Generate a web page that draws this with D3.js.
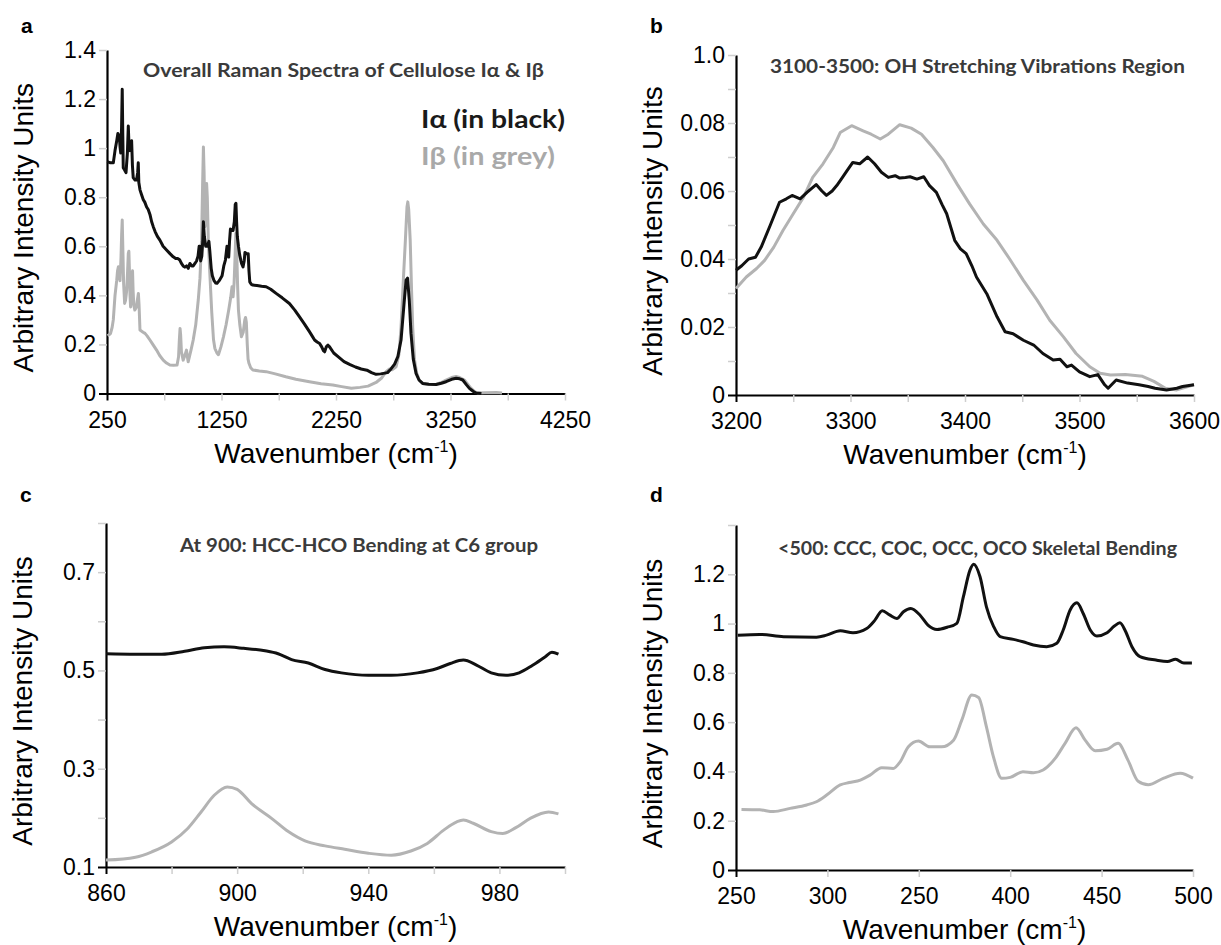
<!DOCTYPE html>
<meta charset="utf-8">
<script src="https://d3js.org/d3.v7.min.js"></script>
<style>
  body { margin: 0; background: #fff; }
  text { font-family: "Liberation Sans", Arial, sans-serif; }
  .note { font-family: Lato, "Open Sans", sans-serif; font-weight: bold; }
</style>
<div id="chart"></div>
<script>

// ---- panel a : overall spectra (wavenumber, intensity) ----
const aAlpha = [[252,0.945],[280,0.94],[305,0.94],[320,0.99],[335,1.03],[345,1.06],[357,1.05],[365,1.0],[370,0.98],[377,1.08],[383,1.24],[388,1.05],[392,0.92],[405,0.91],[416,0.90],[428,0.98],[436,1.09],[443,1.0],[450,0.99],[458,1.02],[465,1.03],[472,0.93],[479,0.88],[495,0.87],[508,0.87],[518,0.90],[523,0.94],[528,0.86],[538,0.83],[552,0.81],[567,0.79],[580,0.78],[596,0.76],[610,0.75],[625,0.73],[640,0.70],[654,0.68],[670,0.66],[690,0.64],[712,0.625],[740,0.60],[770,0.585],[800,0.57],[828,0.557],[850,0.55],[870,0.55],[886,0.544],[900,0.53],[915,0.52],[930,0.515],[945,0.52],[960,0.51],[974,0.53],[990,0.52],[1003,0.52],[1018,0.53],[1032,0.54],[1045,0.56],[1055,0.6],[1061,0.6],[1068,0.54],[1078,0.56],[1086,0.62],[1092,0.70],[1100,0.64],[1112,0.6],[1125,0.6],[1140,0.62],[1148,0.58],[1160,0.51],[1170,0.48],[1185,0.46],[1200,0.45],[1211,0.449],[1230,0.46],[1255,0.48],[1270,0.52],[1284,0.544],[1298,0.6],[1306,0.57],[1313,0.556],[1320,0.62],[1328,0.67],[1340,0.665],[1351,0.664],[1362,0.7],[1370,0.77],[1376,0.775],[1382,0.7],[1388,0.64],[1398,0.6],[1409,0.564],[1425,0.53],[1438,0.516],[1448,0.54],[1455,0.575],[1468,0.57],[1483,0.57],[1490,0.5],[1497,0.455],[1510,0.445],[1524,0.442],[1560,0.44],[1600,0.437],[1640,0.435],[1680,0.425],[1727,0.408],[1780,0.39],[1843,0.367],[1890,0.34],[1930,0.313],[1975,0.283],[2018,0.252],[2045,0.232],[2063,0.218],[2085,0.21],[2107,0.204],[2125,0.19],[2140,0.175],[2151,0.17],[2165,0.19],[2180,0.197],[2194,0.19],[2230,0.165],[2268,0.15],[2320,0.13],[2373,0.118],[2420,0.108],[2470,0.1],[2520,0.095],[2560,0.085],[2600,0.078],[2640,0.08],[2665,0.082],[2700,0.085],[2730,0.1],[2762,0.12],[2790,0.15],[2818,0.218],[2845,0.37],[2862,0.462],[2875,0.47],[2890,0.38],[2905,0.245],[2925,0.14],[2949,0.082],[2975,0.055],[3007,0.041],[3060,0.038],[3124,0.037],[3170,0.042],[3211,0.048],[3260,0.058],[3299,0.062],[3330,0.06],[3357,0.055],[3390,0.035],[3415,0.021],[3450,0.008],[3473,0.002],[3520,0.0]];
const aBeta = [[255,0.235],[270,0.24],[281,0.245],[295,0.27],[305,0.30],[320,0.40],[335,0.462],[342,0.50],[350,0.517],[357,0.48],[364,0.46],[372,0.55],[378,0.65],[383,0.707],[388,0.6],[395,0.45],[404,0.367],[412,0.38],[422,0.42],[430,0.5],[436,0.571],[441,0.58],[446,0.5],[451,0.40],[456,0.353],[463,0.4],[468,0.48],[473,0.5],[478,0.42],[484,0.36],[493,0.34],[505,0.35],[515,0.38],[524,0.408],[530,0.36],[538,0.259],[550,0.255],[565,0.25],[582,0.245],[600,0.235],[625,0.218],[650,0.2],[683,0.177],[710,0.155],[741,0.136],[770,0.124],[799,0.116],[830,0.115],[862,0.116],[875,0.15],[882,0.22],[888,0.265],[893,0.24],[900,0.17],[915,0.136],[930,0.155],[944,0.177],[952,0.15],[959,0.129],[970,0.15],[985,0.18],[1003,0.218],[1025,0.28],[1047,0.381],[1062,0.47],[1076,0.625],[1085,0.85],[1092,1.005],[1098,0.9],[1105,0.68],[1113,0.72],[1120,0.856],[1126,0.8],[1135,0.62],[1148,0.49],[1165,0.33],[1180,0.22],[1192,0.184],[1210,0.165],[1223,0.158],[1245,0.19],[1267,0.231],[1290,0.28],[1313,0.34],[1330,0.39],[1342,0.435],[1351,0.394],[1360,0.45],[1368,0.55],[1375,0.652],[1382,0.6],[1390,0.45],[1398,0.34],[1410,0.28],[1424,0.231],[1440,0.25],[1453,0.299],[1460,0.31],[1467,0.29],[1475,0.2],[1482,0.14],[1490,0.123],[1505,0.105],[1524,0.096],[1580,0.092],[1640,0.089],[1720,0.08],[1812,0.068],[1900,0.058],[2018,0.048],[2120,0.04],[2222,0.035],[2300,0.028],[2384,0.021],[2460,0.025],[2530,0.03],[2600,0.045],[2646,0.062],[2690,0.09],[2717,0.1],[2740,0.097],[2775,0.109],[2800,0.16],[2818,0.27],[2840,0.48],[2856,0.625],[2870,0.76],[2877,0.781],[2885,0.75],[2898,0.625],[2910,0.42],[2920,0.27],[2935,0.14],[2955,0.082],[2980,0.052],[3007,0.041],[3060,0.038],[3124,0.037],[3170,0.045],[3211,0.055],[3260,0.065],[3299,0.069],[3330,0.065],[3371,0.055],[3400,0.038],[3430,0.021],[3460,0.008],[3488,0.002],[3550,0.003],[3650,0.004],[3700,0.002]];
const aXTicks = [250,750,1250,1750,2250,2750,3250,3750,4250];
const aXLabels = ["250","","1250","","2250","","3250","","4250"];
const aYTicks = [0,0.2,0.4,0.6,0.8,1,1.2,1.4];
const aYLabels = ["0","0.2","0.4","0.6","0.8","1","1.2","1.4"];

// ---- panel b : OH stretching ----
const bAlpha = [[3200,0.0367],[3205,0.038],[3211,0.040],[3217,0.0405],[3222,0.0435],[3230,0.050],[3238,0.0567],[3244,0.0577],[3249,0.0587],[3256,0.0577],[3262,0.0596],[3270,0.0619],[3275,0.0600],[3279,0.0587],[3284,0.060],[3288,0.0616],[3293,0.064],[3297,0.066],[3302,0.0684],[3308,0.068],[3315,0.070],[3321,0.068],[3327,0.0655],[3333,0.064],[3339,0.0645],[3343,0.0638],[3348,0.064],[3352,0.0642],[3358,0.0635],[3364,0.0642],[3369,0.0616],[3375,0.0596],[3380,0.056],[3384,0.0533],[3391,0.0455],[3396,0.043],[3401,0.0416],[3406,0.038],[3410,0.0347],[3419,0.0298],[3428,0.023],[3435,0.0186],[3442,0.018],[3451,0.0161],[3460,0.0147],[3468,0.0122],[3477,0.0103],[3483,0.0105],[3489,0.0083],[3493,0.0088],[3500,0.0068],[3509,0.0054],[3516,0.006],[3522,0.003],[3525,0.002],[3532,0.0044],[3542,0.0035],[3552,0.003],[3560,0.0025],[3566,0.002],[3576,0.0015],[3585,0.002],[3590,0.0025],[3600,0.003]];
const bBeta = [[3200,0.0313],[3209,0.0347],[3218,0.0372],[3225,0.0396],[3233,0.0435],[3241,0.0484],[3250,0.0533],[3259,0.0582],[3267,0.064],[3276,0.068],[3285,0.0728],[3291,0.0772],[3301,0.0792],[3311,0.0777],[3318,0.0767],[3326,0.0753],[3333,0.0767],[3343,0.0795],[3353,0.0785],[3362,0.0767],[3372,0.0728],[3381,0.0689],[3393,0.0621],[3404,0.0562],[3416,0.0503],[3428,0.0455],[3439,0.040],[3451,0.0337],[3463,0.0279],[3474,0.022],[3486,0.0171],[3497,0.0122],[3509,0.0083],[3518,0.0064],[3527,0.0059],[3540,0.006],[3555,0.0055],[3565,0.004],[3575,0.002],[3585,0.0015],[3600,0.003]];
const bXTicks = [3200,3250,3300,3350,3400,3450,3500,3550,3600];
const bXLabels = ["3200","","3300","","3400","","3500","","3600"];
const bYTicks = [0,0.01,0.02,0.03,0.04,0.05,0.06,0.07,0.08,0.09,0.1];
const bYLabels = ["0","","0.02","","0.04","","0.06","","0.08","","1.0"];

// ---- panel c : 900 band ----
const cAlpha = [[860,0.534],[869,0.533],[877,0.533],[884,0.539],[890,0.546],[896,0.548],[902,0.545],[908.5,0.54],[912.5,0.534],[916.6,0.522],[921.7,0.515],[926.8,0.502],[931.8,0.495],[940,0.49],[947,0.49],[955,0.495],[961,0.504],[965,0.514],[969,0.521],[973,0.511],[977.5,0.495],[982,0.49],[986,0.495],[990,0.51],[994,0.528],[996,0.537],[998,0.533]];
const cBeta = [[860,0.114],[869,0.12],[874,0.131],[880,0.151],[885,0.179],[889,0.212],[893,0.246],[897,0.263],[900,0.258],[904.4,0.229],[910.5,0.199],[915.6,0.172],[920.7,0.153],[926.8,0.143],[932.8,0.136],[940,0.128],[947,0.124],[953,0.1325],[958,0.148],[963,0.175],[967,0.192],[969,0.1955],[972,0.189],[977.5,0.172],[981,0.168],[985,0.18],[989.4,0.199],[995,0.212],[998,0.208]];
const cXTicks = [860,880,900,920,940,960,980,1000];
const cXLabels = ["860","","900","","940","","980",""];
const cYTicks = [0.1,0.2,0.3,0.4,0.5,0.6,0.7,0.8];
const cYLabels = ["0.1","","0.3","","0.5","","0.7",""];

// ---- panel d : skeletal bending ----
const dAlpha = [[251,0.953],[263,0.956],[276,0.947],[294,0.945],[299.5,0.953],[307,0.971],[314,0.963],[321.5,0.98],[326,1.014],[330,1.052],[334,1.035],[338,1.021],[341.6,1.048],[345.6,1.061],[350.7,1.034],[355,0.994],[360,0.976],[365.5,0.985],[370.8,1.001],[374.4,1.109],[378,1.217],[380,1.241],[383.5,1.19],[387,1.068],[391,0.987],[394.5,0.947],[401.8,0.936],[407,0.926],[412.7,0.913],[420,0.906],[425.5,0.92],[429,0.974],[432.8,1.055],[436.5,1.084],[440,1.04],[443.8,0.974],[447.4,0.95],[453,0.963],[457,0.99],[460,1.003],[463,0.97],[466.6,0.906],[471,0.866],[479.7,0.852],[486,0.846],[490.5,0.855],[495,0.84],[499.4,0.84]];
const dBeta = [[253,0.246],[263,0.244],[270.4,0.237],[279.6,0.25],[288.7,0.264],[294,0.277],[299.6,0.304],[307,0.345],[312,0.355],[318,0.365],[323.3,0.385],[329.7,0.415],[336,0.412],[339.8,0.439],[344.3,0.5],[349.8,0.523],[356,0.5],[362.5,0.5],[369,0.527],[373.5,0.608],[379,0.71],[382.7,0.7],[387,0.581],[390.8,0.46],[395.4,0.372],[400,0.376],[407,0.399],[412.7,0.395],[418,0.406],[424.6,0.453],[430,0.514],[436,0.577],[441,0.527],[446.5,0.484],[453,0.49],[459,0.514],[464.4,0.446],[470,0.36],[475.5,0.346],[484,0.373],[493,0.393],[500,0.373]];
const dXTicks = [250,300,350,400,450,500];
const dXLabels = ["250","300","250","400","450","500"];
const dYTicks = [0,0.2,0.4,0.6,0.8,1,1.2,1.4];
const dYLabels = ["0","0.2","0.4","0.6","0.8","1","1.2",""];

const titles = [
  "Overall Raman Spectra of Cellulose I\u03b1 & I\u03b2",
  "3100-3500: OH Stretching Vibrations Region",
  "At 900: HCC-HCO Bending at C6 group",
  "<500: CCC, COC, OCC, OCO Skeletal Bending"
];

const svg = d3.select("#chart").append("svg")
  .attr("width", 1221)
  .attr("height", 945);

// layout of the four panels
const panels = [
  {letter: "a", left: 107, right: 565, top: 50, bottom: 393.5, xDomain: [250, 4250], yDomain: [0, 1.4],
   xt: aXTicks, xl: aXLabels, yt: aYTicks, yl: aYLabels, alpha: aAlpha, beta: aBeta, curve: d3.curveLinear,
   title: titles[0], tx: 143, ty: 77, tw: 401},
  {letter: "b", left: 736, right: 1194, top: 55, bottom: 395, xDomain: [3200, 3600], yDomain: [0, 0.1],
   xt: bXTicks, xl: bXLabels, yt: bYTicks, yl: bYLabels, alpha: bAlpha, beta: bBeta, curve: d3.curveLinear,
   title: titles[1], tx: 770, ty: 73, tw: 415},
  {letter: "c", left: 106, right: 565, top: 523, bottom: 867, xDomain: [860, 1000], yDomain: [0.1, 0.8],
   xt: cXTicks, xl: cXLabels, yt: cYTicks, yl: cYLabels, alpha: cAlpha, beta: cBeta, curve: d3.curveMonotoneX,
   title: titles[2], tx: 180, ty: 552, tw: 358},
  {letter: "d", left: 736, right: 1193, top: 525, bottom: 870, xDomain: [250, 500], yDomain: [0, 1.4],
   xt: dXTicks, xl: dXLabels, yt: dYTicks, yl: dYLabels, alpha: dAlpha, beta: dBeta, curve: d3.curveMonotoneX,
   title: titles[3], tx: 778, ty: 555, tw: 399}
];

panels.forEach(function(p) {
  const x = d3.scaleLinear().domain(p.xDomain).range([p.left, p.right]);
  const y = d3.scaleLinear().domain(p.yDomain).range([p.bottom, p.top]);

  // x axis
  const gx = svg.append("g")
    .attr("transform", `translate(0,${p.bottom})`)
    .call(d3.axisBottom(x).tickValues(p.xt).tickSize(7).tickSizeOuter(0).tickPadding(11)
      .tickFormat((d, i) => p.xl[i]));
  // y axis
  const gy = svg.append("g")
    .attr("transform", `translate(${p.left},0)`)
    .call(d3.axisLeft(y).tickValues(p.yt).tickSize(8).tickSizeOuter(0).tickPadding(3)
      .tickFormat((d, i) => p.yl[i]));

  [gx, gy].forEach(g => {
    g.select(".domain").attr("stroke", "#000").attr("stroke-width", 2.2);
    g.selectAll(".tick line").attr("stroke", "#cfcfcf").attr("stroke-width", 1.5);
    g.selectAll(".tick text").attr("font-size", 23).attr("fill", "#000")
      .attr("font-family", "'Liberation Sans', Arial, sans-serif");
  });
  // origin ticks drawn dark
  gx.selectAll(".tick").filter(d => d === p.xDomain[0]).select("line").attr("stroke", "#000").attr("stroke-width", 2);
  gy.selectAll(".tick").filter(d => d === p.yDomain[0]).select("line").attr("stroke", "#000").attr("stroke-width", 2);

  const line = d3.line()
    .x(d => x(d[0]))
    .y(d => y(d[1]))
    .curve(p.curve);

  svg.append("path")
    .datum(p.beta)
    .attr("d", line)
    .attr("fill", "none")
    .attr("stroke", "#b3b3b3")
    .attr("stroke-width", 3)
    .attr("stroke-linejoin", "round");

  svg.append("path")
    .datum(p.alpha)
    .attr("d", line)
    .attr("fill", "none")
    .attr("stroke", "#111")
    .attr("stroke-width", 3)
    .attr("stroke-linejoin", "round");

  // panel title inside the plot
  svg.append("text")
    .attr("class", "note")
    .attr("x", p.tx)
    .attr("y", p.ty)
    .attr("font-size", 18)
    .attr("fill", "#3a3a3a")
    .attr("textLength", p.tw)
    .attr("lengthAdjust", "spacingAndGlyphs")
    .text(p.title);

  // panel letter
  svg.append("text")
    .attr("x", p.left - 86)
    .attr("y", p.top < 100 ? 33 : 502)
    .attr("font-size", 21)
    .attr("font-weight", "bold")
    .text(p.letter);

  // y axis title
  svg.append("text")
    .attr("transform", `translate(${p.left - 74},${(p.top + p.bottom) / 2 + 6}) rotate(-90)`)
    .attr("text-anchor", "middle")
    .attr("font-size", 28)
    .text("Arbitrary Intensity Units");

  // x axis title
  const xt = svg.append("text")
    .attr("x", (p.left + p.right) / 2)
    .attr("y", p.bottom + 69)
    .attr("text-anchor", "middle")
    .attr("font-size", 28);
  xt.append("tspan").text("Wavenumber (cm");
  xt.append("tspan").attr("font-size", 16).attr("dy", -11).text("-1");
  xt.append("tspan").attr("dy", 11).text(")");
});

// legend in panel a
svg.append("text")
  .attr("class", "note")
  .attr("x", 421).attr("y", 128)
  .attr("font-size", 24)
  .attr("fill", "#1a1a1a")
  .attr("textLength", 144)
  .attr("lengthAdjust", "spacingAndGlyphs")
  .text("I\u03b1 (in black)");
svg.append("text")
  .attr("class", "note")
  .attr("x", 421).attr("y", 165)
  .attr("font-size", 24)
  .attr("fill", "#a9a9a9")
  .attr("textLength", 134)
  .attr("lengthAdjust", "spacingAndGlyphs")
  .text("I\u03b2 (in grey)");

</script>
